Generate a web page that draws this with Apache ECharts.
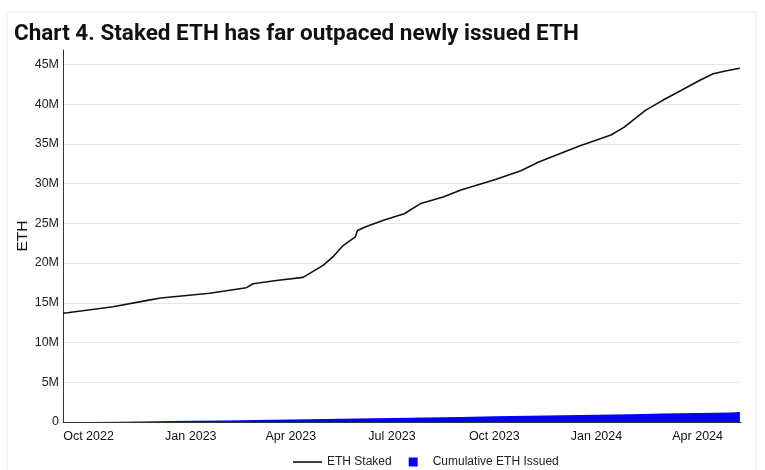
<!DOCTYPE html>
<html>
<head>
<meta charset="utf-8">
<script src="https://cdn.jsdelivr.net/npm/echarts@6/dist/echarts.min.js"></script>
<style>html,body{margin:0;padding:0;background:#fff}#c{width:765px;height:470px}</style>
</head>
<body>
<div id="c"></div>
<script>
// ETH Staked (millions)
const stakedDates = ['2022-09-08','2022-09-12','2022-10-23','2022-11-23','2022-12-05','2023-01-18','2023-02-20','2023-02-26','2023-03-19','2023-04-12','2023-04-30','2023-05-09','2023-05-18','2023-05-29','2023-05-31','2023-06-08','2023-06-24','2023-07-12','2023-07-27','2023-08-16','2023-09-01','2023-10-02','2023-10-25','2023-11-10','2023-11-30','2023-12-16','2024-01-14','2024-01-26','2024-02-14','2024-03-01','2024-03-17','2024-04-03','2024-04-15','2024-04-27','2024-05-09'];
const stakedValues = [13.7,13.75,14.5,15.3,15.6,16.2,16.9,17.4,17.8,18.2,19.7,20.8,22.2,23.3,24.1,24.6,25.4,26.2,27.5,28.3,29.2,30.5,31.6,32.7,33.8,34.7,36.1,37.1,39.2,40.5,41.7,43.0,43.8,44.2,44.5];
// Cumulative ETH Issued (millions)
const issuedDates = ['2022-09-08','2022-10-01','2022-11-01','2022-12-01','2023-01-01','2023-02-01','2023-03-01','2023-04-01','2023-05-01','2023-06-01','2023-07-01','2023-08-01','2023-09-01','2023-10-01','2023-11-01','2023-12-01','2024-01-01','2024-02-01','2024-03-01','2024-04-01','2024-05-01','2024-05-09'];
const issuedValues = [0,0.04,0.09,0.15,0.20,0.26,0.31,0.37,0.43,0.50,0.57,0.64,0.71,0.78,0.85,0.92,0.99,1.06,1.13,1.20,1.27,1.28];
// X tick labels
const tickDates = ['2022-10-01','2023-01-01','2023-04-01','2023-07-01','2023-10-01','2024-01-01','2024-04-01'];
const tickLabels = ['Oct 2022','Jan 2023','Apr 2023','Jul 2023','Oct 2023','Jan 2024','Apr 2024'];

const ts = s => new Date(s + 'T00:00:00').getTime();
const labelMap = {};
tickDates.forEach((d, i) => { labelMap[ts(d)] = tickLabels[i]; });

const chart = echarts.init(document.getElementById('c'));
const font = 'Liberation Sans, Arial, sans-serif';
chart.setOption({
  animation: false,
  backgroundColor: '#fff',
  title: {
    text: 'Chart 4. Staked ETH has far outpaced newly issued ETH',
    left: 9, top: 18,
    textStyle: {fontFamily: 'Roboto', fontWeight: 'bold', fontSize: 22.5, color: '#111'}
  },
  graphic: [{type: 'rect', shape: {x: 7, y: 12, width: 749, height: 470}, style: {fill: 'none', stroke: '#ececec', lineWidth: 1}, silent: true}],
  grid: {left: 63, right: 24, top: 50, bottom: 48},
  legend: {
    top: 451, left: 288, itemGap: 7, itemWidth: 29, itemHeight: 9,
    textStyle: {fontFamily: font, fontSize: 12, color: '#222'},
    data: [
      {name: 'ETH Staked', icon: 'path://M0,0H29V1.6H0Z', itemStyle: {color: '#111'}},
      {name: 'Cumulative ETH Issued', icon: 'path://M0,4.5L0.01,4.5L0.01,4.51Z M10,0H19V9H10Z M28.99,4.5L29,4.5L29,4.51Z', itemStyle: {color: '#0000ff'}}
    ]
  },
  xAxis: {
    type: 'value',
    min: ts('2022-09-08'), max: ts('2024-05-10'),
    axisLine: {lineStyle: {color: '#333', width: 1}},
    axisTick: {show: false},
    splitLine: {show: false},
    axisLabel: {
      customValues: tickDates.map(ts),
      formatter: v => labelMap[v] || '',
      fontFamily: font, fontSize: 12.5, color: '#111', margin: 8
    }
  },
  yAxis: {
    type: 'value', min: 0, max: 46.8, interval: 5,
    name: 'ETH', nameLocation: 'middle', nameGap: 32, nameMoveOverlap: false,
    nameTextStyle: {fontFamily: font, fontSize: 15.5, color: '#111'},
    axisLine: {show: true, lineStyle: {color: '#333', width: 1}},
    axisTick: {show: false},
    axisLabel: {
      showMaxLabel: false,
      formatter: v => v === 0 ? '0' : v + 'M',
      fontFamily: font, fontSize: 12.5, color: '#222', margin: 4
    },
    splitLine: {lineStyle: {color: ['#e6e6e6','#e6e6e6','#e6e6e6','#e6e6e6','#e6e6e6','#e6e6e6','#e6e6e6','#e6e6e6','#e6e6e6','#e6e6e6','rgba(0,0,0,0)'], width: 1}}
  },
  series: [
    {
      name: 'Cumulative ETH Issued', type: 'line', step: 'end',
      showSymbol: false, symbol: 'none',
      lineStyle: {width: 0, color: '#0000ff'},
      itemStyle: {color: '#0000ff'},
      areaStyle: {color: '#0000ff', opacity: 1},
      data: issuedDates.map((d, i) => [ts(d), issuedValues[i]]),
      z: 3
    },
    {
      name: 'ETH Staked', type: 'line', showSymbol: false, symbol: 'none',
      lineStyle: {color: '#111', width: 1.6},
      itemStyle: {color: '#111'},
      data: stakedDates.map((d, i) => [ts(d), stakedValues[i]]),
      z: 4
    }
  ]
});
</script>
</body>
</html>
